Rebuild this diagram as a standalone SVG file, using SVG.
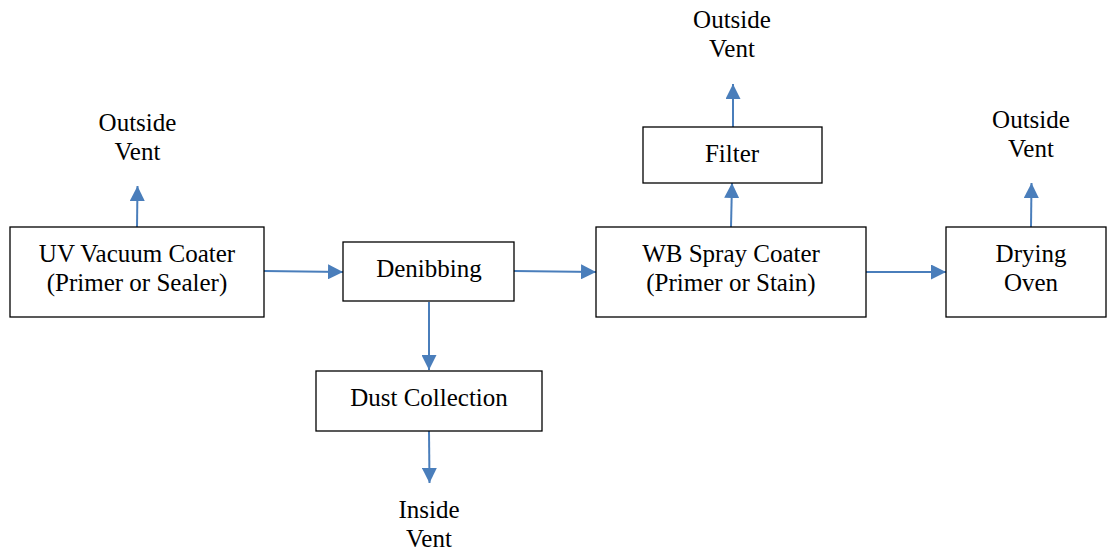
<svg xmlns="http://www.w3.org/2000/svg" width="1107" height="553" viewBox="0 0 1107 553">
<defs>
<style>
.box{fill:#fff;stroke:#000;stroke-width:1.3}
.t{font-family:"Liberation Serif","Times New Roman",serif;font-size:25px;fill:#000;text-anchor:middle}
.c{stroke:#4A7EBB;stroke-width:2;fill:none;marker-end:url(#ah)}
</style>
<marker id="ah" viewBox="0 0 10 10" refX="10" refY="5" markerWidth="15" markerHeight="15" markerUnits="userSpaceOnUse" orient="auto">
<path d="M0,0 L10,5 L0,10 z" fill="#4A7EBB"/>
</marker>
</defs>
<rect width="1107" height="553" fill="#fff"/>
<g id="connectors">
<line class="c" x1="137" y1="227" x2="137.5" y2="186"/>
<line class="c" x1="264" y1="271" x2="343" y2="272"/>
<line class="c" x1="429" y1="302" x2="429" y2="370"/>
<line class="c" x1="429" y1="431" x2="429.5" y2="483"/>
<line class="c" x1="514" y1="271" x2="596" y2="272"/>
<line class="c" x1="731" y1="227" x2="732" y2="183"/>
<line class="c" x1="733" y1="127" x2="733" y2="84"/>
<line class="c" x1="866" y1="272" x2="946" y2="272"/>
<line class="c" x1="1031" y1="227" x2="1031.5" y2="183"/>
</g>
<g id="vent-uv"><text class="t" x="137.5" y="131">Outside</text><text class="t" x="137.5" y="160">Vent</text></g>
<g id="uv-coater"><rect class="box" x="10" y="227" width="254" height="90"/><text class="t" x="137" y="262">UV Vacuum Coater</text><text class="t" x="137" y="291">(Primer or Sealer)</text></g>
<g id="denibbing"><rect class="box" x="343" y="242" width="171" height="59"/><text class="t" x="429" y="277">Denibbing</text></g>
<g id="dust-collection"><rect class="box" x="316" y="371" width="226" height="60"/><text class="t" x="429" y="406">Dust Collection</text></g>
<g id="vent-inside"><text class="t" x="429" y="518">Inside</text><text class="t" x="429" y="547">Vent</text></g>
<g id="wb-coater"><rect class="box" x="596" y="227" width="270" height="90"/><text class="t" x="731" y="262">WB Spray Coater</text><text class="t" x="731" y="291">(Primer or Stain)</text></g>
<g id="filter"><rect class="box" x="643" y="127" width="179" height="56"/><text class="t" x="732" y="162">Filter</text></g>
<g id="vent-filter"><text class="t" x="732" y="28">Outside</text><text class="t" x="732" y="57">Vent</text></g>
<g id="drying-oven"><rect class="box" x="946" y="227" width="160" height="90"/><text class="t" x="1031" y="262">Drying</text><text class="t" x="1031" y="291">Oven</text></g>
<g id="vent-oven"><text class="t" x="1031" y="128">Outside</text><text class="t" x="1031" y="157">Vent</text></g>
</svg>
